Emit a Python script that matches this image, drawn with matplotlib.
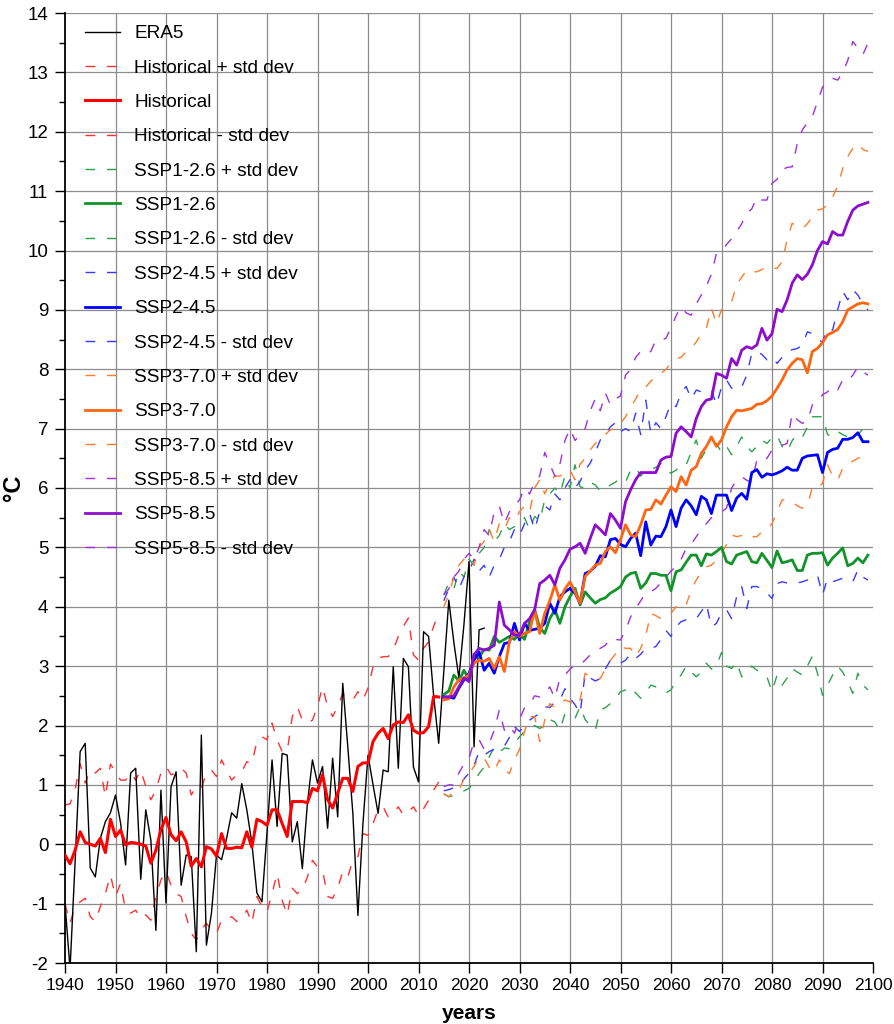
import matplotlib
matplotlib.use("Agg")
import matplotlib.pyplot as plt
import numpy as np

plt.rcParams['font.family'] = ['Liberation Sans', 'DejaVu Sans']
plt.rcParams['axes.unicode_minus'] = False

# ---------------- data ----------------
era5_years = list(range(1940, 2024))
era5 = [-1.0, -2.1, -0.3, 1.56, 1.70, -0.40, -0.55, 0.10, 0.38, 0.53,
        0.83, 0.36, -0.35, 1.20, 1.28, -0.59, 0.58, 0.07, -1.45, 0.91,
        -0.99, 0.97, 1.22, -0.69, -0.18, -0.21, -1.81, 1.84, -1.70, -1.16,
        -0.18, -0.26, 0.10, 0.53, 0.44, 1.02, 0.58, 0.02, -0.82, -0.97,
        0.20, 1.42, 0.30, 1.53, 1.50, 0.04, 0.38, -0.41, 0.69, 1.42,
        1.03, 1.31, 0.27, 1.45, 0.46, 2.71, 1.64, 0.52, -1.20, 0.35,
        1.50, 1.00, 0.52, 1.25, 1.22, 2.99, 1.28, 3.13, 2.99, 1.30,
        1.05, 3.58, 3.50, 2.50, 1.70, 2.90, 4.11, 3.40, 2.80, 3.70,
        4.76, 1.64, 3.61, 3.64]

hist_years = list(range(1940, 2015))
hist = [-0.18, -0.33, -0.10, 0.21, 0.03, 0.00, -0.03, 0.10, -0.14, 0.42,
        0.13, 0.24, -0.01, 0.03, 0.02, 0.00, -0.03, -0.32, -0.10, 0.25,
        0.45, 0.16, 0.06, 0.21, 0.04, -0.37, -0.24, -0.38, -0.04, -0.08,
        -0.20, 0.18, -0.07, -0.07, -0.05, -0.06, 0.21, -0.05, 0.42, 0.38,
        0.32, 0.58, 0.58, 0.35, 0.13, 0.72, 0.72, 0.72, 0.70, 0.94,
        0.90, 1.17, 0.75, 0.61, 0.86, 1.11, 1.11, 0.89, 1.31, 1.37,
        1.37, 1.73, 1.87, 1.95, 1.78, 2.01, 2.06, 2.05, 2.18, 1.92,
        1.87, 1.88, 1.98, 2.49, 2.48]
hist_plus = [0.66, 0.68, 0.92, 1.36, 1.03, 1.25, 1.20, 1.28, 0.80, 1.35,
             1.22, 1.08, 1.08, 1.20, 1.08, 1.25, 0.97, 0.75, 0.91, 1.20,
             1.31, 1.17, 1.20, 1.28, 1.20, 0.83, 0.97, 0.94, 1.20, 1.25,
             1.14, 1.42, 1.25, 1.08, 1.17, 1.22, 1.39, 1.36, 1.73, 1.81,
             1.76, 2.04, 1.76, 1.56, 1.56, 2.15, 2.32, 2.09, 2.04, 2.09,
             2.32, 2.65, 2.32, 2.15, 2.32, 2.54, 2.46, 2.43, 2.57, 2.43,
             2.63, 2.99, 3.13, 3.16, 3.16, 3.27, 3.50, 3.67, 3.81, 3.19,
             3.10, 3.30, 3.41, 3.67, 3.89]
hist_minus = [-1.00, -1.33, -1.05, -0.97, -0.91, -1.22, -1.30, -1.05, -0.83, -0.52,
              -0.88, -0.66, -1.11, -1.16, -1.11, -1.25, -1.19, -1.28, -0.88, -0.60,
              -0.46, -0.69, -0.83, -0.88, -1.22, -1.50, -1.61, -1.44, -1.33, -1.44,
              -1.50, -1.28, -1.28, -1.22, -1.30, -1.25, -1.11, -1.33, -0.88, -1.05,
              -1.14, -0.83, -0.49, -0.94, -1.19, -0.74, -0.83, -0.77, -0.55, -0.27,
              -0.38, -0.44, -0.88, -0.91, -0.74, -0.46, -0.55, -0.27, -0.21, 0.18,
              0.15, 0.35, 0.58, 0.63, 0.46, 0.52, 0.63, 0.49, 0.55, 0.63,
              0.49, 0.60, 0.74, 0.91, 1.05]

ssp_years = list(range(2015, 2100))

ssp126 = [2.52, 2.58, 2.85, 2.75, 2.93, 2.77, 3.20, 3.15, 3.28, 3.27,
          3.50, 3.40, 3.45, 3.50, 3.45, 3.55, 3.45, 3.75, 3.95, 3.65,
          3.55, 3.80, 3.95, 3.72, 4.00, 4.17, 4.31, 4.03, 4.25, 4.15,
          4.06, 4.12, 4.15, 4.23, 4.28, 4.34, 4.50, 4.56, 4.58, 4.31,
          4.40, 4.56, 4.56, 4.53, 4.53, 4.27, 4.59, 4.62, 4.75, 4.87,
          4.87, 4.69, 4.89, 4.87, 4.93, 5.00, 4.76, 4.72, 4.87, 4.90,
          4.93, 4.76, 4.74, 4.90, 4.78, 4.66, 4.94, 4.74, 4.76, 4.79,
          4.61, 4.61, 4.87, 4.90, 4.90, 4.91, 4.70, 4.82, 4.90, 4.99,
          4.69, 4.73, 4.82, 4.74, 4.87]
ssp126_plus = [4.20, 4.40, 4.30, 4.60, 4.50, 4.80, 4.70, 4.90, 5.00, 5.30,
               5.10, 5.20, 5.40, 5.30, 5.35, 5.40, 5.50, 5.30, 5.52, 5.45,
               5.80, 5.90, 6.00, 5.90, 6.20, 6.00, 6.39, 6.02, 6.00, 6.10,
               6.05, 5.95, 5.99, 6.05, 6.10, 6.16, 6.10, 6.30, 6.35, 6.20,
               6.30, 6.30, 6.35, 6.41, 6.30, 6.25, 6.30, 6.40, 6.39, 6.60,
               6.81, 6.50, 6.65, 6.70, 6.75, 6.60, 6.70, 6.56, 6.70, 6.86,
               6.70, 6.61, 6.70, 6.81, 6.75, 6.85, 6.89, 6.70, 6.61, 6.80,
               6.90, 6.85, 7.03, 7.20, 7.20, 7.20, 6.90, 6.86, 6.95, 6.90,
               6.86, 6.95, 6.89, 7.00, 7.09]
ssp126_minus = [0.85, 0.80, 0.82, 0.86, 0.90, 0.94, 1.05, 1.19, 1.30, 1.47,
                1.64, 1.55, 1.62, 1.61, 1.70, 1.81, 1.90, 1.95, 2.00, 1.95,
                2.00, 2.10, 2.06, 1.92, 2.20, 2.15, 2.12, 2.32, 2.10, 2.00,
                1.92, 2.26, 2.30, 2.37, 2.45, 2.57, 2.60, 2.65, 2.55, 2.46,
                2.55, 2.68, 2.65, 2.60, 2.55, 2.60, 2.75, 2.85, 3.00, 2.90,
                2.82, 2.90, 3.05, 2.95, 3.00, 3.23, 3.00, 2.96, 3.07, 2.82,
                2.90, 3.00, 2.93, 2.90, 2.82, 2.57, 2.85, 2.68, 2.80, 2.96,
                2.90, 2.85, 3.00, 3.17, 2.88, 2.51, 2.68, 2.85, 3.00, 2.90,
                2.74, 2.54, 2.88, 2.68, 2.60]

ssp245 = [2.48, 2.48, 2.46, 2.63, 2.77, 2.88, 3.10, 3.24, 2.93, 3.05,
          2.88, 3.16, 3.38, 3.40, 3.72, 3.44, 3.72, 3.60, 3.62, 3.64,
          3.72, 4.06, 3.89, 4.17, 4.25, 4.31, 4.23, 4.06, 4.56, 4.60,
          4.68, 4.86, 4.84, 5.13, 5.15, 5.05, 5.01, 5.15, 5.24, 4.86,
          5.43, 5.04, 5.19, 5.18, 5.35, 5.63, 5.35, 5.66, 5.80, 5.70,
          5.55, 5.86, 5.80, 5.57, 5.88, 5.88, 5.88, 5.62, 5.83, 5.91,
          5.81, 6.26, 6.31, 6.18, 6.24, 6.22, 6.25, 6.29, 6.35, 6.30,
          6.30, 6.50, 6.54, 6.55, 6.56, 6.26, 6.60, 6.65, 6.67, 6.82,
          6.82, 6.85, 6.93, 6.78, 6.78]
ssp245_plus = [4.10, 4.30, 4.50, 4.30, 4.50, 4.60, 4.80, 4.60, 4.70, 4.50,
               4.70, 4.80, 5.00, 5.10, 5.30, 5.20, 5.40, 5.57, 5.30, 5.60,
               5.70, 5.63, 5.90, 5.80, 6.00, 6.14, 6.00, 6.11, 6.30, 6.42,
               6.60, 6.81, 6.90, 7.03, 7.10, 6.95, 7.00, 6.95, 7.26, 6.90,
               7.48, 6.92, 7.10, 7.00, 7.20, 7.43, 7.37, 7.60, 7.71, 7.50,
               7.65, 7.62, 7.65, 7.65, 7.40, 7.70, 7.82, 7.68, 7.65, 7.70,
               7.90, 8.27, 8.30, 8.25, 8.16, 8.21, 8.10, 8.20, 8.30, 8.33,
               8.35, 8.40, 8.63, 8.60, 8.50, 8.46, 8.69, 8.66, 9.00, 9.31,
               9.17, 9.34, 9.25, 9.10, 9.00]
ssp245_minus = [0.90, 0.92, 0.95, 0.97, 1.10, 1.20, 1.33, 1.56, 1.50, 1.56,
                1.60, 1.64, 1.65, 1.80, 1.98, 1.90, 2.00, 2.09, 2.15, 2.20,
                2.32, 2.30, 2.40, 2.43, 2.62, 2.46, 2.35, 2.20, 2.88, 2.80,
                2.75, 2.79, 2.95, 3.10, 3.10, 3.05, 3.10, 3.21, 3.13, 3.20,
                3.30, 3.30, 3.33, 3.45, 3.60, 3.50, 3.66, 3.75, 3.78, 3.78,
                3.80, 3.92, 4.05, 3.66, 3.72, 3.90, 3.95, 3.80, 4.17, 4.34,
                3.97, 4.34, 4.34, 4.30, 4.23, 4.14, 4.39, 4.42, 4.40, 4.40,
                4.40, 4.42, 4.45, 4.50, 4.53, 4.20, 4.48, 4.42, 4.45, 4.48,
                4.45, 4.42, 4.62, 4.50, 4.45]

ssp370 = [2.43, 2.45, 2.65, 2.77, 2.80, 2.85, 3.05, 3.10, 3.08, 3.13,
          2.96, 3.16, 2.91, 3.41, 3.58, 3.50, 3.55, 3.58, 3.94, 3.55,
          3.89, 4.10, 4.37, 4.11, 4.30, 4.42, 4.25, 4.06, 4.51, 4.60,
          4.70, 4.73, 4.93, 5.01, 4.91, 5.13, 5.38, 5.21, 5.18, 5.38,
          5.63, 5.64, 5.80, 5.73, 5.88, 6.02, 5.94, 6.19, 6.05, 6.30,
          6.36, 6.58, 6.70, 6.86, 6.70, 6.81, 7.03, 7.20, 7.31, 7.30,
          7.32, 7.34, 7.41, 7.42, 7.47, 7.55, 7.68, 7.82, 7.99, 8.10,
          8.18, 8.16, 7.94, 8.30, 8.35, 8.45, 8.58, 8.62, 8.67, 8.80,
          9.00, 9.05, 9.10, 9.12, 9.10]
ssp370_plus = [4.00, 4.20, 4.50, 4.70, 4.80, 4.85, 4.70, 5.00, 5.10, 5.30,
               5.10, 5.40, 5.30, 5.50, 5.45, 5.60, 5.70, 5.60, 6.00, 6.14,
               5.90, 6.10, 6.20, 6.20, 6.27, 6.30, 6.14, 6.40, 6.50, 6.64,
               6.75, 6.81, 6.90, 6.98, 7.00, 7.09, 7.20, 7.35, 7.50, 7.65,
               7.70, 7.80, 7.88, 7.93, 8.00, 8.10, 8.18, 8.20, 8.30, 8.35,
               8.46, 8.60, 8.69, 9.03, 8.77, 9.00, 9.05, 9.14, 9.42, 9.55,
               9.67, 9.65, 9.64, 9.68, 9.73, 9.70, 9.70, 9.81, 10.18, 10.46,
               10.40, 10.37, 10.45, 10.57, 10.68, 10.70, 10.77, 10.90, 11.08, 11.38,
               11.58, 11.72, 11.80, 11.70, 11.67]
ssp370_minus = [0.85, 0.80, 0.90, 0.91, 1.10, 1.19, 1.31, 1.47, 1.45, 1.30,
                1.22, 1.42, 1.25, 1.19, 1.42, 1.60, 1.90, 2.15, 2.15, 1.73,
                2.09, 2.37, 2.30, 2.35, 2.43, 2.40, 2.32, 2.43, 2.88, 2.82,
                2.80, 2.79, 2.95, 3.10, 3.20, 3.33, 3.30, 3.30, 3.16, 3.30,
                3.52, 3.89, 3.85, 3.80, 3.86, 3.89, 4.00, 3.95, 4.03, 4.28,
                4.45, 4.59, 4.67, 4.70, 4.79, 4.90, 5.05, 5.21, 5.18, 5.20,
                5.15, 5.18, 5.18, 5.26, 5.29, 5.40, 5.60, 5.80, 5.80, 5.77,
                5.70, 5.66, 5.70, 6.02, 6.00, 6.08, 6.39, 6.20, 6.13, 6.33,
                6.41, 6.45, 6.50, 6.54, 6.50]

ssp585 = [2.48, 2.48, 2.50, 2.65, 2.80, 2.74, 3.19, 3.30, 3.27, 3.30,
          3.35, 4.08, 3.69, 3.61, 3.52, 3.52, 3.72, 3.80, 3.95, 4.39,
          4.45, 4.53, 4.37, 4.65, 4.79, 4.97, 5.01, 5.07, 4.90, 5.15,
          5.38, 5.30, 5.21, 5.57, 5.46, 5.32, 5.77, 5.97, 6.14, 6.26,
          6.26, 6.26, 6.26, 6.47, 6.52, 6.53, 6.92, 7.03, 6.95, 6.86,
          7.17, 7.37, 7.48, 7.50, 7.93, 7.90, 7.85, 8.18, 8.07, 8.32,
          8.38, 8.35, 8.41, 8.69, 8.49, 8.60, 9.01, 8.97, 9.17, 9.45,
          9.59, 9.51, 9.60, 9.76, 10.00, 10.15, 10.11, 10.32, 10.26, 10.26,
          10.49, 10.68, 10.75, 10.78, 10.81]
ssp585_plus = [4.20, 4.30, 4.50, 4.60, 4.80, 4.90, 4.80, 5.00, 5.30, 5.20,
               5.60, 5.70, 5.40, 5.60, 5.70, 5.80, 6.00, 5.90, 6.10, 6.20,
               6.60, 6.40, 6.20, 6.40, 6.80, 7.00, 6.80, 6.90, 7.00, 7.30,
               7.50, 7.30, 7.60, 7.40, 7.50, 7.55, 7.90, 8.00, 8.20, 8.30,
               8.25, 8.30, 8.49, 8.49, 8.52, 8.70, 8.90, 9.05, 8.95, 8.91,
               9.10, 9.25, 9.40, 9.60, 9.95, 10.00, 10.10, 10.20, 10.32, 10.45,
               10.63, 10.70, 10.90, 10.85, 10.85, 11.13, 11.20, 11.36, 11.40, 11.41,
               11.80, 12.03, 12.15, 12.26, 12.50, 12.75, 12.85, 12.90, 12.87, 13.00,
               13.20, 13.52, 13.41, 13.30, 13.49]
ssp585_minus = [0.97, 1.00, 1.00, 1.20, 1.35, 1.45, 1.73, 1.76, 1.60, 1.70,
                1.92, 2.26, 1.92, 2.00, 1.87, 2.10, 2.30, 2.35, 2.50, 2.48,
                2.54, 2.65, 2.46, 2.80, 2.85, 2.95, 3.02, 3.02, 3.10, 3.19,
                3.25, 3.30, 3.35, 3.47, 3.45, 3.44, 3.60, 3.83, 3.97, 4.10,
                4.23, 4.25, 4.31, 4.40, 4.50, 4.60, 4.68, 4.80, 4.98, 5.05,
                5.18, 5.30, 5.40, 5.50, 5.55, 5.60, 5.66, 6.00, 6.13, 6.19,
                6.13, 6.10, 6.47, 6.44, 6.50, 6.64, 6.69, 6.72, 6.75, 7.26,
                7.15, 7.09, 7.12, 7.40, 7.45, 7.57, 7.62, 7.71, 7.65, 7.82,
                7.80, 7.90, 8.04, 7.96, 7.90]

x_ticks = list(range(1940, 2101, 10))
y_ticks = list(range(-2, 15))

# ---------------- figure ----------------
fig = plt.figure(figsize=(8.94, 10.24), dpi=100)
ax = fig.add_axes([65/894, 1-963/1024, 808/894, 950/1024])

grid_c = '#8c8c8c'
for xv in x_ticks[1:-1]:
    ax.axvline(xv, color=grid_c, lw=0.9, zorder=0)
for yv in y_ticks[1:]:
    ax.axhline(yv, color=grid_c, lw=0.9, zorder=0)

DASH = (7, 8.5)
lw_d = 1.0
lw_s = 2.0

series = [
    (era5_years, era5, 'ERA5', 'black', '-', 1.0),
    (hist_years, hist_plus, 'Historical + std dev', '#ff3030', '--', lw_d),
    (hist_years, hist, 'Historical', '#ff0000', '-', 2.2),
    (hist_years, hist_minus, 'Historical - std dev', '#ff3030', '--', lw_d),
    (ssp_years, ssp126_plus, 'SSP1-2.6 + std dev', '#2ca24c', '--', lw_d),
    (ssp_years, ssp126, 'SSP1-2.6', '#13942b', '-', lw_s),
    (ssp_years, ssp126_minus, 'SSP1-2.6 - std dev', '#2ca24c', '--', lw_d),
    (ssp_years, ssp245_plus, 'SSP2-4.5 + std dev', '#3a3aff', '--', lw_d),
    (ssp_years, ssp245, 'SSP2-4.5', '#0000ff', '-', lw_s),
    (ssp_years, ssp245_minus, 'SSP2-4.5 - std dev', '#3a3aff', '--', lw_d),
    (ssp_years, ssp370_plus, 'SSP3-7.0 + std dev', '#ff7a2a', '--', lw_d),
    (ssp_years, ssp370, 'SSP3-7.0', '#ff6410', '-', lw_s),
    (ssp_years, ssp370_minus, 'SSP3-7.0 - std dev', '#ff7a2a', '--', lw_d),
    (ssp_years, ssp585_plus, 'SSP5-8.5 + std dev', '#a030dc', '--', lw_d),
    (ssp_years, ssp585, 'SSP5-8.5', '#8e0ccc', '-', lw_s),
    (ssp_years, ssp585_minus, 'SSP5-8.5 - std dev', '#a030dc', '--', lw_d),
]

handles = []
for xs, ys, lab, col, ls, lw in series:
    if ls == '--':
        ln, = ax.plot(xs, ys, color=col, lw=lw, dashes=DASH, label=lab, zorder=2)
    else:
        ln, = ax.plot(xs, ys, color=col, lw=lw, label=lab, zorder=3)
    handles.append(ln)

ax.set_xlim(1940, 2100)
ax.set_ylim(-2, 14)
ax.set_xticks(x_ticks)
ax.set_yticks(y_ticks)
ax.set_yticks(np.arange(-1.5, 14, 1.0), minor=True)
ax.tick_params(axis='both', which='major', direction='out', length=7, width=1.0,
               color='black')
ax.tick_params(axis='x', which='major', labelsize=12.5, pad=4)
ax.tick_params(axis='y', which='major', labelsize=13.5, pad=5)
ax.tick_params(axis='y', which='minor', direction='out', length=4, width=1.0)

for s in ['top', 'right']:
    ax.spines[s].set_visible(False)
ax.spines['left'].set_linewidth(1.3)
ax.spines['bottom'].set_linewidth(1.3)

ax.set_xlabel('years', fontsize=15, fontweight='bold', labelpad=8)
ax.set_ylabel('°C', fontsize=17, fontweight='bold')
ax.yaxis.set_label_coords(-0.049, 0.5)

leg = ax.legend(handles=handles, loc='upper left', bbox_to_anchor=(0.0248, 0.9873),
                frameon=False, fontsize=13.7, handlelength=1.84, handletextpad=0.74,
                labelspacing=0.895, borderaxespad=0, borderpad=0)

fig.savefig('out.png', dpi=100)
